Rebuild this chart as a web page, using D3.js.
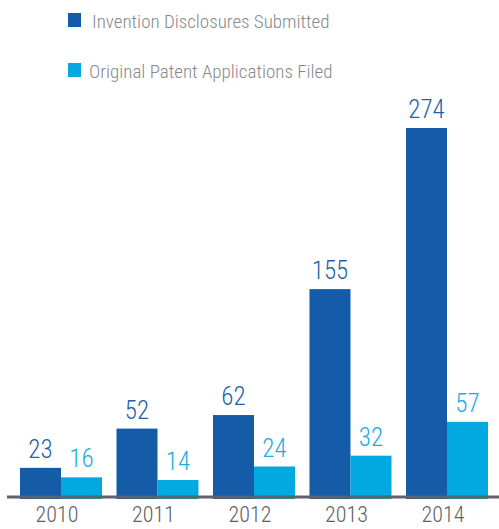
<!DOCTYPE html>
<html>
<head>
<meta charset="utf-8">
<script src="https://cdn.jsdelivr.net/npm/d3@7/dist/d3.min.js"></script>
<style>
  body { margin: 0; background: #fff; }
  text { font-family: "Roboto Condensed", "Liberation Sans Narrow", Roboto, sans-serif; font-weight: 300; }
</style>
</head>
<body>
<div id="chart"></div>
<script>
var years = ["2010", "2011", "2012", "2013", "2014"];
var disclosures = [23, 52, 62, 155, 274];
var applications = [16, 14, 24, 32, 57];
var seriesNames = ["Invention Disclosures Submitted", "Original Patent Applications Filed"];
var seriesColors = ["#145ca8", "#02a9e0"];
var labelColors = ["#1f5fab", "#19ade2"];

var width = 499, height = 529;
var baseline = 499;

var svg = d3.select("#chart")
    .append("svg")
    .attr("width", width)
    .attr("height", height);

var x = d3.scaleBand()
    .domain(years)
    .range([20, 488])
    .paddingInner(0.15)
    .paddingOuter(0);

var sub = d3.scaleBand()
    .domain([0, 1])
    .range([0, x.bandwidth()]);

var y = d3.scaleLinear()
    .domain([0, 274])
    .range([baseline, 128]);

var rows = years.map(function (yr, i) {
    return { year: yr, values: [disclosures[i], applications[i]] };
});

var groups = svg.selectAll("g.year")
    .data(rows)
    .enter()
    .append("g")
    .attr("class", "year")
    .attr("transform", function (d) { return "translate(" + x(d.year) + ",0)"; });

groups.selectAll("rect")
    .data(function (d) { return d.values; })
    .enter()
    .append("rect")
    .attr("x", function (d, i) { return sub(i); })
    .attr("y", function (d) { return y(d); })
    .attr("width", sub.bandwidth())
    .attr("height", function (d) { return baseline - y(d); })
    .style("fill", function (d, i) { return seriesColors[i]; });

groups.selectAll("text.val")
    .data(function (d) { return d.values; })
    .enter()
    .append("text")
    .attr("class", "val")
    .attr("x", function (d, i) { return sub(i) + sub.bandwidth() / 2; })
    .attr("y", function (d) { return y(d) - 10; })
    .attr("text-anchor", "middle")
    .attr("font-size", "25px")
    .attr("fill", function (d, i) { return labelColors[i]; })
    .text(function (d) { return d; });

// axis line
var axis = svg.append("g")
    .attr("transform", "translate(0," + (baseline - 2) + ")")
    .call(d3.axisBottom(x).tickSize(0).tickPadding(9));

axis.select(".domain")
    .attr("d", "M7,0H" + width)
    .attr("stroke", "#5f6366")
    .attr("stroke-width", 3);

axis.selectAll(".tick text")
    .attr("dx", -4)
    .attr("font-size", "22px")
    .attr("fill", "#5d6063")
    .style("font-family", "\"Roboto Condensed\", Roboto, sans-serif")
    .style("font-weight", 300);

// legend
var legend = svg.selectAll("g.legend")
    .data(seriesNames)
    .enter()
    .append("g")
    .attr("class", "legend")
    .attr("transform", function (d, i) { return "translate(68," + (13 + i * 50) + ")"; });

legend.append("rect")
    .attr("width", 13)
    .attr("height", 14)
    .style("fill", function (d, i) { return seriesColors[i]; });

legend.append("text")
    .attr("x", function (d, i) { return i === 0 ? 24 : 21; })
    .attr("y", 15)
    .attr("font-size", "19px")
    .attr("fill", "#85898d")
    .text(function (d) { return d; });
</script>
</body>
</html>
